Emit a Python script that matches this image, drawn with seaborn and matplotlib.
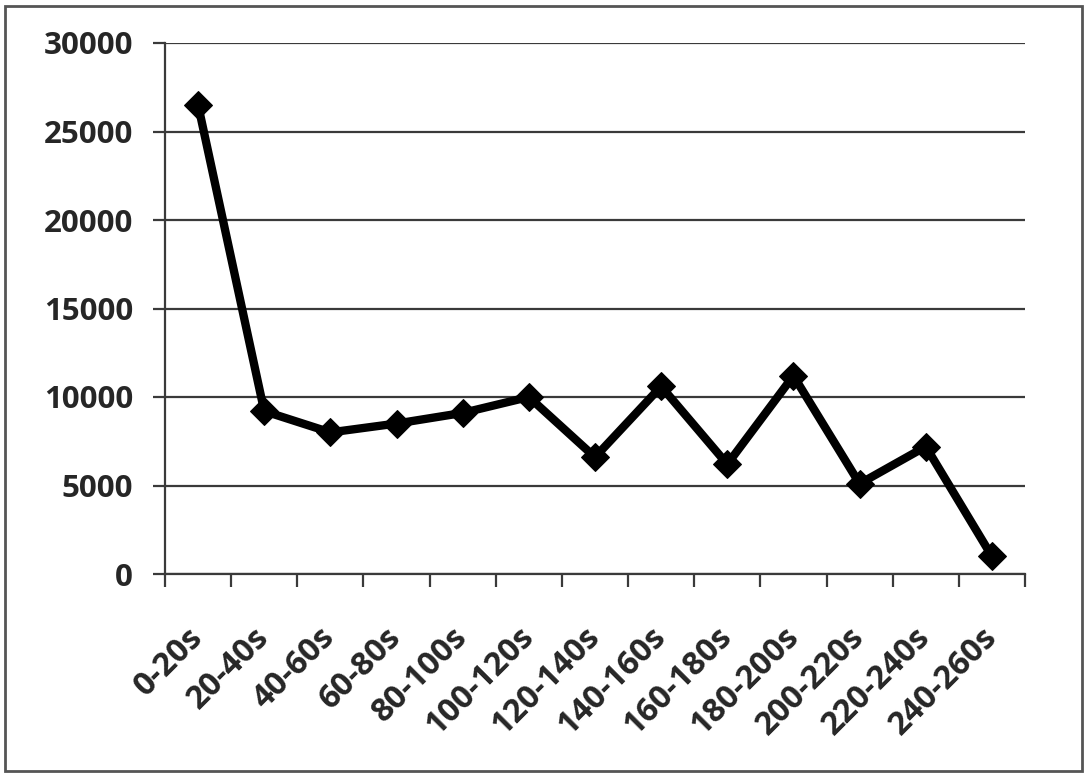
import matplotlib
matplotlib.use("Agg")
import matplotlib.pyplot as plt
from matplotlib.patches import Rectangle
import seaborn as sns
import pandas as pd

categories = ["0-20s", "20-40s", "40-60s", "60-80s", "80-100s", "100-120s", "120-140s",
              "140-160s", "160-180s", "180-200s", "200-220s", "220-240s", "240-260s"]
values = [26500, 9200, 8000, 8500, 9100, 10000, 6600, 10600, 6200, 11200, 5100, 7200, 1000]
y_ticks = [0, 5000, 10000, 15000, 20000, 25000, 30000]

sns.set_style("white")
plt.rcParams['font.family'] = ['Open Sans', 'DejaVu Sans']

df = pd.DataFrame({"cat": categories, "val": values})

fig = plt.figure(figsize=(10.9, 7.77), dpi=100)
ax = fig.add_axes([165/1090, 1-574/777, (1025-165)/1090, (574-43)/777])

sns.lineplot(data=df, x="cat", y="val", ax=ax, color="black", linewidth=6,
             marker="D", markersize=14, markeredgecolor="black", sort=False)

ax.set_ylim(0, 30000)
ax.set_xlim(-0.5, len(categories) - 0.5)
ax.set_yticks(y_ticks)
ax.set_yticklabels([str(v) for v in y_ticks], fontsize=22.5, fontweight="bold")
ax.yaxis.grid(True, color="#3a3a3a", linewidth=1.6)
ax.xaxis.grid(False)
ax.set_axisbelow(True)

ax.set_xticks(range(len(categories)))
ax.set_xticklabels(categories, fontsize=23.5, fontweight="bold", rotation=45,
                   ha="right", va="center", rotation_mode="anchor")
ax.set_xticks([i - 0.5 for i in range(len(categories) + 1)], minor=True)
ax.tick_params(axis="x", which="major", length=0, pad=42, bottom=True)
ax.tick_params(axis="x", which="minor", length=9, width=1.6, color="#3a3a3a",
               direction="out", bottom=True)
ax.tick_params(axis="y", length=9, width=1.6, color="#3a3a3a", direction="out", pad=14, left=True)

for s in ["top", "right"]:
    ax.spines[s].set_visible(False)
for s in ["left", "bottom"]:
    ax.spines[s].set_color("#3a3a3a")
    ax.spines[s].set_linewidth(1.6)

ax.set_xlabel("")
ax.set_ylabel("")

fig.patches.append(Rectangle((5/1090, 6/777), 1077/1090, 765/777, transform=fig.transFigure,
                             fill=False, edgecolor="#555555", linewidth=2))

fig.savefig("out.png", dpi=100)
